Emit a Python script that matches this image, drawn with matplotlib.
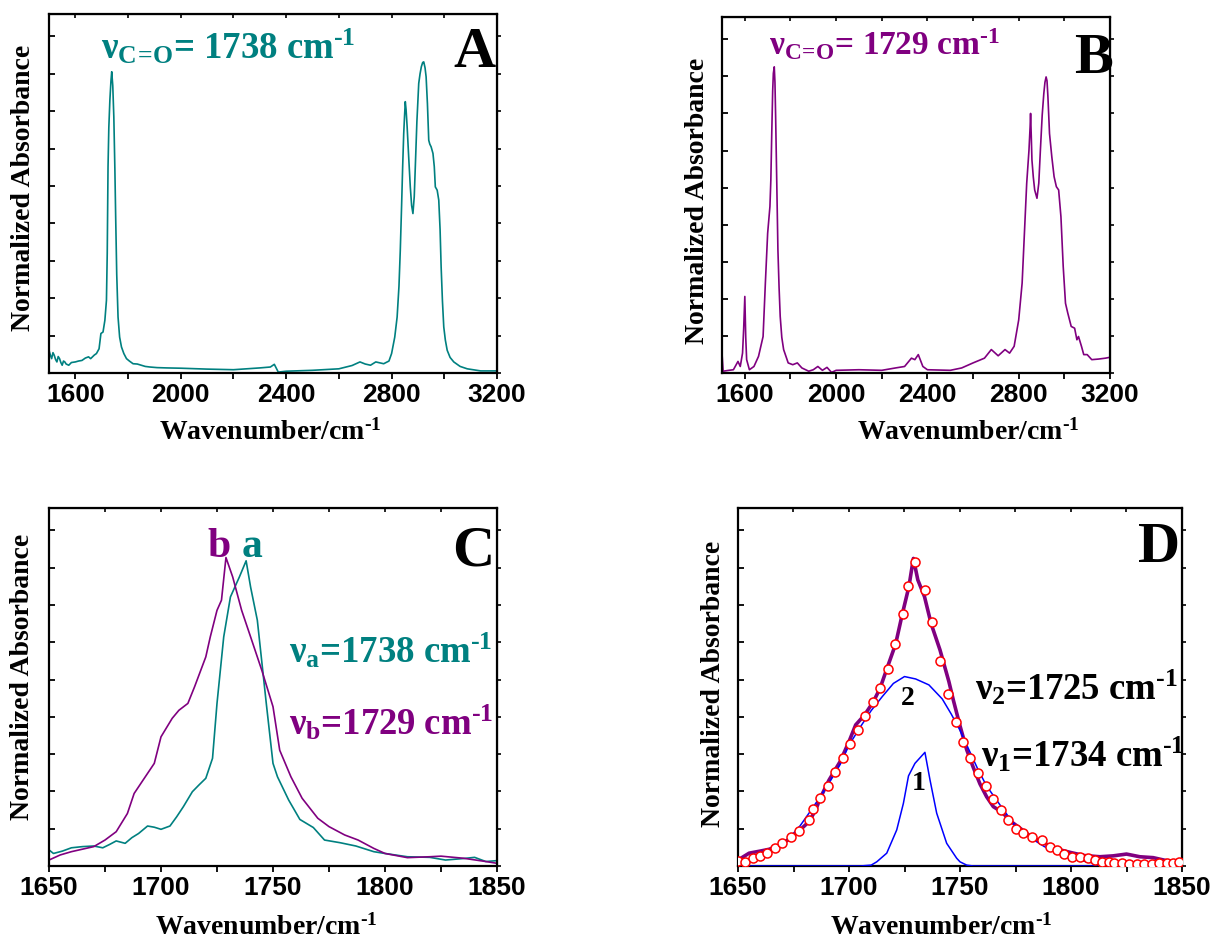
import numpy as np
import matplotlib
matplotlib.use("Agg")
import matplotlib.pyplot as plt
from matplotlib.ticker import MultipleLocator, NullFormatter

plt.rcParams["font.family"] = "Liberation Serif"
plt.rcParams["font.weight"] = "bold"
plt.rcParams["mathtext.fontset"] = "custom"
plt.rcParams["mathtext.rm"] = "Liberation Serif:bold"
plt.rcParams["mathtext.it"] = "Liberation Serif:bold"
plt.rcParams["mathtext.bf"] = "Liberation Serif:bold"
plt.rcParams["mathtext.default"] = "rm"

TEAL = "#008080"
PURPLE = "#800080"

# ---- panel A : full spectrum, sample a ----
a_wn = [1500, 1505, 1510, 1515, 1520, 1525, 1530, 1535, 1540, 1545, 1550, 1555,
        1560, 1565, 1575, 1585, 1600, 1612, 1625, 1638, 1650, 1658, 1665, 1672,
        1680, 1690, 1697, 1705, 1712, 1718, 1721, 1724, 1727, 1731, 1735, 1738,
        1742, 1746, 1750, 1753, 1757, 1762, 1768, 1775, 1784, 1794, 1805, 1819,
        1835, 1850, 1865, 1883, 1910, 1946, 2000, 2100, 2200, 2300, 2340, 2355,
        2370, 2400, 2500, 2600, 2650, 2680, 2700, 2720, 2740, 2770, 2790, 2800,
        2812, 2821, 2828, 2833, 2838, 2842, 2846, 2849, 2852, 2855, 2859, 2865,
        2871, 2876, 2881, 2886, 2890, 2896, 2903, 2908, 2913, 2918, 2922, 2927,
        2931, 2936, 2941, 2945, 2950, 2957, 2962, 2966, 2973, 2979, 2984, 2988,
        2993, 2998, 3004, 3011, 3022, 3036, 3060, 3087, 3138, 3200]
a_abs = [0.076, 0.060, 0.048, 0.068, 0.059, 0.045, 0.037, 0.055, 0.048, 0.035,
         0.026, 0.040, 0.037, 0.030, 0.026, 0.035, 0.037, 0.040, 0.042, 0.050,
         0.054, 0.048, 0.054, 0.060, 0.065, 0.081, 0.132, 0.137, 0.176, 0.243,
         0.400, 0.689, 0.820, 0.912, 0.975, 1.007, 0.960, 0.856, 0.680, 0.522,
         0.330, 0.187, 0.120, 0.087, 0.065, 0.048, 0.040, 0.031, 0.030, 0.026,
         0.022, 0.020, 0.018, 0.017, 0.016, 0.013, 0.011, 0.017, 0.020, 0.029,
         0.003, 0.006, 0.009, 0.014, 0.025, 0.037, 0.030, 0.026, 0.037, 0.031,
         0.040, 0.065, 0.120, 0.187, 0.290, 0.410, 0.560, 0.689, 0.800, 0.856,
         0.907, 0.880, 0.823, 0.720, 0.622, 0.560, 0.533, 0.590, 0.689, 0.840,
         0.968, 1.000, 1.024, 1.038, 1.040, 1.020, 0.990, 0.900, 0.778, 0.765,
         0.756, 0.734, 0.690, 0.622, 0.611, 0.578, 0.480, 0.355, 0.240, 0.154,
         0.110, 0.076, 0.052, 0.037, 0.022, 0.014, 0.007, 0.007]

# ---- panel B : full spectrum, sample b ----
b_wn = [1500, 1505, 1530, 1550, 1570, 1580, 1590, 1595, 1600, 1604, 1608, 1620,
        1640, 1660, 1680, 1690, 1700, 1710, 1714, 1718, 1722, 1725, 1729, 1732,
        1735, 1740, 1745, 1750, 1755, 1762, 1770, 1790, 1810, 1830, 1850, 1880,
        1900, 1920, 1940, 1960, 1980, 2000, 2100, 2200, 2260, 2300, 2330, 2345,
        2360, 2380, 2400, 2500, 2550, 2600, 2650, 2680, 2710, 2740, 2760, 2780,
        2800, 2815, 2825, 2835, 2845, 2850, 2852, 2855, 2858, 2864, 2870, 2880,
        2888, 2895, 2903, 2910, 2915, 2920, 2924, 2928, 2935, 2945, 2955, 2965,
        2975, 2985, 2995, 3005, 3015, 3030, 3045, 3055, 3062, 3075, 3085, 3100,
        3120, 3150, 3180, 3200]
b_abs = [0.067, 0.006, 0.009, 0.011, 0.039, 0.022, 0.067, 0.150, 0.258, 0.120,
         0.045, 0.011, 0.022, 0.056, 0.123, 0.303, 0.471, 0.561, 0.650, 0.807,
         0.950, 1.010, 1.032, 0.980, 0.864, 0.640, 0.415, 0.290, 0.191, 0.120,
         0.079, 0.034, 0.028, 0.034, 0.017, 0.006, 0.011, 0.022, 0.009, 0.019,
         0.002, 0.009, 0.011, 0.009, 0.017, 0.022, 0.050, 0.045, 0.062, 0.022,
         0.011, 0.009, 0.017, 0.034, 0.050, 0.079, 0.058, 0.079, 0.067, 0.090,
         0.179, 0.303, 0.471, 0.639, 0.751, 0.830, 0.875, 0.800, 0.718, 0.660,
         0.617, 0.589, 0.640, 0.751, 0.870, 0.942, 0.980, 0.998, 0.985, 0.931,
         0.807, 0.729, 0.662, 0.628, 0.617, 0.527, 0.359, 0.235, 0.202, 0.157,
         0.151, 0.112, 0.123, 0.090, 0.062, 0.062, 0.045, 0.047, 0.050, 0.053]

# ---- panel C : carbonyl region, a and b ----
ca_wn = [1650, 1652, 1656, 1660, 1665, 1670, 1674, 1677, 1680, 1684, 1687, 1690,
         1694, 1697, 1700, 1704, 1707, 1710, 1714, 1717, 1720, 1723, 1725, 1728,
         1731, 1735, 1738, 1740, 1743, 1747, 1750, 1752, 1757, 1762, 1768, 1773,
         1780, 1787, 1795, 1800, 1810, 1820, 1827, 1835, 1840, 1845, 1850]
ca_abs = [0.054, 0.042, 0.050, 0.061, 0.065, 0.067, 0.061, 0.072, 0.084, 0.076,
          0.095, 0.109, 0.134, 0.130, 0.123, 0.134, 0.165, 0.199, 0.249, 0.272,
          0.294, 0.361, 0.545, 0.768, 0.902, 0.969, 1.023, 0.935, 0.824, 0.545,
          0.344, 0.299, 0.221, 0.156, 0.129, 0.087, 0.078, 0.067, 0.048, 0.042,
          0.031, 0.029, 0.020, 0.025, 0.029, 0.015, 0.018]
cb_wn = [1650, 1655, 1660, 1670, 1675, 1680, 1685, 1688, 1692, 1697, 1700, 1705,
         1708, 1712, 1715, 1720, 1722, 1725, 1727, 1729, 1732, 1736, 1740, 1745,
         1750, 1753, 1758, 1763, 1770, 1775, 1782, 1788, 1795, 1800, 1810, 1820,
         1825, 1835, 1845, 1850]
cb_abs = [0.020, 0.037, 0.048, 0.065, 0.087, 0.115, 0.176, 0.243, 0.288, 0.344,
          0.433, 0.495, 0.522, 0.545, 0.601, 0.701, 0.768, 0.857, 0.891, 1.034,
          0.969, 0.857, 0.768, 0.656, 0.534, 0.388, 0.299, 0.227, 0.160, 0.132,
          0.104, 0.087, 0.059, 0.042, 0.028, 0.031, 0.033, 0.026, 0.015, 0.009]

# ---- panel D : band fitting of b ----
d_wn = [1650, 1655, 1660, 1664, 1669, 1673, 1678, 1682, 1685, 1687, 1691, 1696,
        1700, 1703, 1707, 1711, 1714, 1717, 1721, 1724, 1727, 1729, 1731, 1734,
        1737, 1741, 1745, 1747, 1750, 1753, 1756, 1759, 1762, 1765, 1769, 1773,
        1777, 1782, 1788, 1794, 1800, 1806, 1813, 1819, 1825, 1831, 1837, 1843,
        1849, 1850]
d_abs = [0.020, 0.043, 0.050, 0.056, 0.070, 0.090, 0.121, 0.149, 0.188, 0.227,
         0.288, 0.350, 0.417, 0.473, 0.506, 0.551, 0.596, 0.660, 0.744, 0.844,
         0.937, 1.031, 0.959, 0.903, 0.812, 0.724, 0.618, 0.556, 0.470, 0.390,
         0.330, 0.275, 0.232, 0.199, 0.180, 0.149, 0.127, 0.098, 0.076, 0.056,
         0.045, 0.035, 0.031, 0.034, 0.040, 0.031, 0.028, 0.018, 0.014, 0.014]
fit_wn = [1650.1, 1653.2, 1656.6, 1659.9, 1663.2, 1666.7, 1670.0, 1673.7, 1677.6,
          1682.1, 1683.6, 1686.9, 1690.4, 1693.8, 1697.2, 1700.5, 1703.9, 1707.2,
          1710.7, 1714.0, 1717.4, 1720.7, 1724.2, 1726.7, 1729.7, 1734.2, 1737.4,
          1741.0, 1744.7, 1748.2, 1751.5, 1754.5, 1758.3, 1761.7, 1765.0, 1768.3,
          1771.8, 1775.2, 1778.5, 1782.3, 1786.8, 1790.5, 1793.5, 1796.8, 1800.6,
          1804.1, 1807.8, 1810.8, 1813.8, 1817.0, 1819.4, 1822.8, 1826.3, 1829.6,
          1832.9, 1836.3, 1839.8, 1843.1, 1846.1, 1848.8]
fit_abs = [0.018, 0.014, 0.026, 0.035, 0.045, 0.060, 0.076, 0.098, 0.116, 0.154,
           0.190, 0.229, 0.269, 0.316, 0.362, 0.409, 0.456, 0.503, 0.550, 0.595,
           0.660, 0.744, 0.844, 0.940, 1.018, 0.925, 0.819, 0.688, 0.575, 0.484,
           0.417, 0.361, 0.313, 0.269, 0.224, 0.188, 0.154, 0.123, 0.110, 0.098,
           0.087, 0.065, 0.054, 0.040, 0.031, 0.029, 0.026, 0.020, 0.014, 0.012,
           0.009, 0.009, 0.008, 0.008, 0.008, 0.008, 0.009, 0.009, 0.009, 0.012]
p2_wn = [1650, 1655, 1661, 1667, 1673, 1678, 1683, 1687, 1691, 1696, 1700, 1705,
         1710, 1715, 1720, 1725, 1730, 1736, 1742, 1746, 1750, 1754, 1758, 1762,
         1768, 1774, 1781, 1788, 1796, 1803, 1811, 1818, 1825, 1835, 1850]
p2_abs = [0.014, 0.022, 0.038, 0.060, 0.093, 0.135, 0.188, 0.232, 0.278, 0.340,
          0.405, 0.465, 0.521, 0.568, 0.612, 0.635, 0.627, 0.607, 0.560, 0.510,
          0.455, 0.390, 0.325, 0.268, 0.205, 0.143, 0.098, 0.065, 0.037, 0.020,
          0.009, 0.004, 0.002, 0.001, 0.000]
p1_wn = [1650, 1705, 1710, 1712.5, 1717, 1721.5, 1724.5, 1726.8, 1729.7, 1734.2,
         1736.5, 1739.5, 1744, 1748.5, 1750, 1753, 1756, 1850]
p1_abs = [0.0, 0.0, 0.003, 0.014, 0.043, 0.121, 0.210, 0.302, 0.344, 0.381,
          0.288, 0.177, 0.076, 0.026, 0.014, 0.003, 0.0, 0.0]

W, H = 1216, 940
fig = plt.figure(figsize=(W / 100, H / 100), dpi=100)


def px(x, y):
    return x / W, 1 - y / H


def make_axes(left, top, right, bottom, xlim, major, minor):
    ax = fig.add_axes([left / W, 1 - bottom / H, (right - left) / W, (bottom - top) / H])
    ax.set_xlim(*xlim)
    ax.set_ylim(0, 1.2)
    ax.xaxis.set_major_locator(MultipleLocator(major))
    ax.xaxis.set_minor_locator(MultipleLocator(minor))
    ax.yaxis.set_major_locator(MultipleLocator(0.125))
    ax.yaxis.set_major_formatter(NullFormatter())
    ax.tick_params(axis="x", which="both", direction="out", length=4, width=1.3,
                   pad=3, labelsize=19, labelfontfamily="Liberation Sans")
    ax.tick_params(axis="y", which="both", direction="in", length=4, width=1.3)
    for lab in ax.get_xticklabels():
        lab.set_fontweight("bold")
    for s in ax.spines.values():
        s.set_linewidth(1.6)
    # inward ticks on top, outward on the right
    top_ax = ax.secondary_xaxis("top")
    top_ax.xaxis.set_major_locator(MultipleLocator(minor))
    top_ax.xaxis.set_major_formatter(NullFormatter())
    top_ax.tick_params(direction="in", length=3, width=1.2)
    right_ax = ax.secondary_yaxis("right")
    right_ax.yaxis.set_major_locator(MultipleLocator(0.125))
    right_ax.yaxis.set_major_formatter(NullFormatter())
    right_ax.tick_params(direction="out", length=3, width=1.2)
    return ax


CM = r" cm$^{\text{-1}}$"
NU_CO = r"$\nu_{C\!=\!O}$"


def labels(xc_label, xbase, yl_x, yl_c):
    fig.text(*px(xc_label, xbase), r"Wavenumber/cm$^{\text{-1}}$", fontsize=20,
             ha="center", va="baseline")
    fig.text(*px(yl_x, yl_c), "Normalized Absorbance", fontsize=20,
             rotation=90, ha="center", va="center")


# A
axA = make_axes(49, 14, 497, 373, (1500, 3200), 400, 200)
axA.plot(a_wn, a_abs, color=TEAL, lw=1.2)
fig.text(*px(101, 59), NU_CO + "= 1738" + CM, color=TEAL, fontsize=26.5,
         va="baseline")
fig.text(*px(453, 67), "A", fontsize=42, va="baseline")
labels(270, 440, 24, 188)

# B
axB = make_axes(722, 17, 1110, 373, (1500, 3200), 400, 200)
axB.plot(b_wn, b_abs, color=PURPLE, lw=1.2)
fig.text(*px(769, 55), NU_CO + "= 1729" + CM, color=PURPLE, fontsize=24,
         va="baseline")
fig.text(*px(1074, 73), "B", fontsize=42, va="baseline")
labels(968, 440, 698, 201)

# C
axC = make_axes(49, 508, 497, 866, (1650, 1850), 50, 25)
axC.plot(ca_wn, ca_abs, color=TEAL, lw=1.2)
axC.plot(cb_wn, cb_abs, color=PURPLE, lw=1.2)
fig.text(*px(207, 557), "b", color=PURPLE, fontsize=30, va="baseline")
fig.text(*px(242, 557), "a", color=TEAL, fontsize=30, va="baseline")
fig.text(*px(452, 566), "C", fontsize=42, va="baseline")
fig.text(*px(289, 663), r"$\nu_a$=1738" + CM, color=TEAL, fontsize=26.5, va="baseline")
fig.text(*px(289, 735), r"$\nu_b$=1729" + CM, color=PURPLE, fontsize=26.5, va="baseline")
labels(266, 935, 23, 677)

# D
axD = make_axes(738, 508, 1182, 866, (1650, 1850), 50, 25)
axD.plot(d_wn, d_abs, color=PURPLE, lw=2.6, zorder=2)
axD.plot(p2_wn, p2_abs, color="blue", lw=1.1, zorder=3)
axD.plot(p1_wn, p1_abs, color="blue", lw=1.1, zorder=3)
axD.plot(fit_wn, fit_abs, "o", ms=6.5, mfc="white", mec="red", mew=1.1, zorder=4)
fig.text(*px(1138, 562), "D", fontsize=42, va="baseline")
fig.text(*px(975, 700), r"$\nu_2$=1725" + CM, fontsize=26.5, va="baseline")
fig.text(*px(981, 767), r"$\nu_1$=1734" + CM, fontsize=26.5, va="baseline")
fig.text(*px(901, 705), "2", fontsize=20, va="baseline")
fig.text(*px(912, 790), "1", fontsize=20, va="baseline")
labels(941, 935, 713, 684)

fig.savefig("out.png", dpi=100, facecolor="white")
